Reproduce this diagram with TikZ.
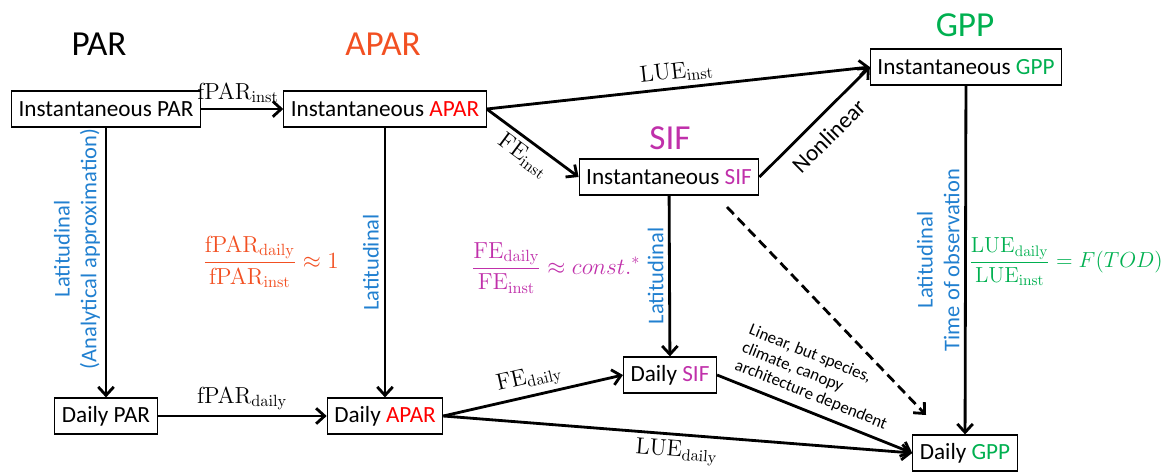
\RequirePackage{fix-cm}
\documentclass[tikz,border=0pt]{standalone}
\usepackage[no-math]{fontspec}
\setmainfont{Carlito}
\usetikzlibrary{arrows.meta}
\definecolor{aparcol}{RGB}{242,80,34}
\definecolor{redcol}{RGB}{255,0,0}
\definecolor{sifcol}{RGB}{192,48,170}
\definecolor{gppcol}{RGB}{0,176,80}
\definecolor{latcol}{RGB}{33,128,208}
\tikzset{
    box/.style={draw, line width=0.8pt, minimum height=0.9cm, inner xsep=5pt, font=\fontsize{16.5}{19}\selectfont},
    head/.style={font=\fontsize{25}{28}\selectfont},
    flow/.style={line width=2pt, -{Straight Barb[length=6pt,width=11pt,line width=2pt]}},
    lbl/.style={font=\fontsize{16.5}{19}\selectfont},
    lat/.style={font=\fontsize{16}{19}\selectfont, text=latcol, align=center, rotate=90, anchor=south},
}
\begin{document}
\begin{tikzpicture}[x=0.025cm, y=-0.025cm]
    \useasboundingbox (0,0) rectangle (1168,472);

    % headings
    \node[head] (parT) at (99,44) {PAR};
    \node[head, text=aparcol] (aparT) at (383,44) {APAR};
    \node[head, text=sifcol] (sifT) at (670,138) {SIF};
    \node[head, text=gppcol] (gppT) at (965,25) {GPP};

    % boxes
    \node[box] (parI) at (106,109) {Instantaneous PAR};
    \node[box] (aparI) at (385,109) {Instantaneous \textcolor{redcol}{APAR}};
    \node[box] (sifI) at (669,177) {Instantaneous \textcolor{sifcol}{SIF}};
    \node[box] (gppI) at (966,67) {Instantaneous \textcolor{gppcol}{GPP}};
    \node[box] (parD) at (106,416) {Daily PAR};
    \node[box] (aparD) at (385,416) {Daily \textcolor{redcol}{APAR}};
    \node[box] (sifD) at (670,375) {Daily \textcolor{sifcol}{SIF}};
    \node[box] (gppD) at (965,453) {Daily \textcolor{gppcol}{GPP}};

    % ratios
    \node[lbl, text=aparcol] (fparR) at (271,262) {$\displaystyle\frac{\mathrm{fPAR}_{\mathrm{daily}}}{\mathrm{fPAR}_{\mathrm{inst}}}\approx 1$};
    \node[lbl, text=sifcol] (feR) at (556,268) {$\displaystyle\frac{\mathrm{FE}_{\mathrm{daily}}}{\mathrm{FE}_{\mathrm{inst}}}\approx const.^{*}$};
    \node[lbl, text=gppcol, font=\fontsize{15.5}{18}\selectfont] (lueR) at (1066,262) {$\displaystyle\frac{\mathrm{LUE}_{\mathrm{daily}}}{\mathrm{LUE}_{\mathrm{inst}}}=F(TOD)$};

    \coordinate (dashS) at (727,207);
    \coordinate (dashE) at (926,415);

    % connectors
    \draw[flow] (parI) -- node[lbl, above, pos=0.45] {$\mathrm{fPAR}_{\mathrm{inst}}$} (aparI);
    \draw[flow] (parI) -- node[lat, pos=0.45] {Latitudinal\\(Analytical approximation)} (parD);
    \draw[flow] (aparI) -- node[lat] {Latitudinal} (aparD);
    \draw[flow] (aparI.east) -- node[lbl, above, sloped] {$\mathrm{LUE}_{\mathrm{inst}}$} (gppI.west);
    \draw[flow] (aparI.east) -- node[lbl, below, sloped] {$\mathrm{FE}_{\mathrm{inst}}$} (sifI.west);
    \draw[flow] (sifI.east) -- node[lbl, below=4pt, sloped] {Nonlinear} (gppI.west);
    \draw[flow] (sifI) -- node[lat] {Latitudinal} (sifD);
    \draw[flow] (gppI) -- node[lat] {Latitudinal\\Time of observation} (gppD);
    \draw[flow] (parD) -- node[lbl, above] {$\mathrm{fPAR}_{\mathrm{daily}}$} (aparD);
    \draw[flow] (aparD.east) -- node[lbl, above, sloped] {$\mathrm{FE}_{\mathrm{daily}}$} (sifD.west);
    \draw[flow] (aparD.east) -- node[lbl, below, sloped] {$\mathrm{LUE}_{\mathrm{daily}}$} (gppD.west);
    \draw[flow] (sifD.east) -- node[above=2pt, pos=0.45, sloped, align=left, font=\fontsize{12}{13.5}\selectfont] {Linear, but species,\\climate, canopy\\architecture dependent} (gppD.west);
    \draw[flow, dash pattern=on 7pt off 4pt] (dashS) -- (dashE);
\end{tikzpicture}
\end{document}
